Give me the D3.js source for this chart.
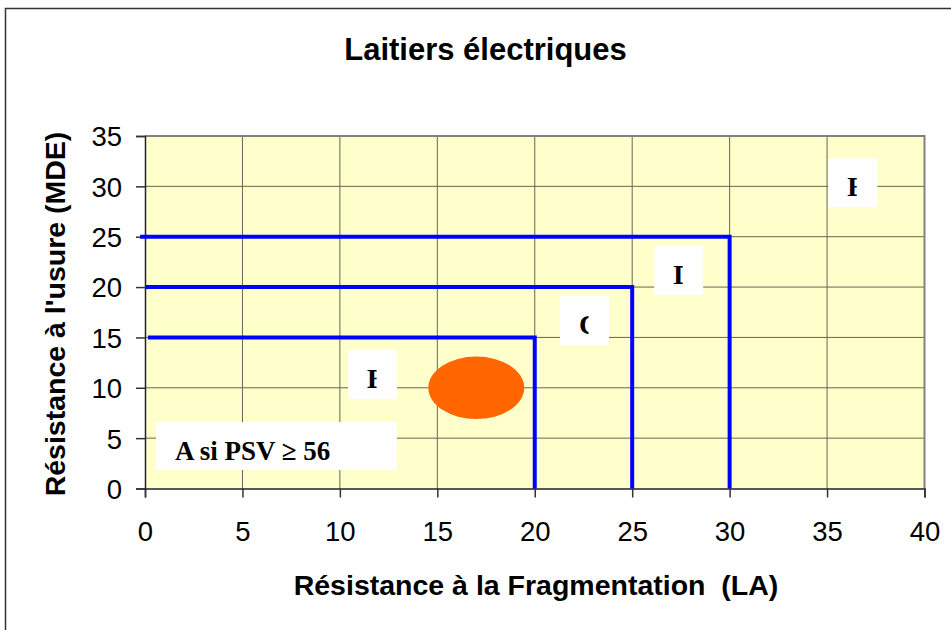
<!DOCTYPE html>
<html>
<head>
<meta charset="utf-8">
<script src="https://cdn.jsdelivr.net/npm/d3@7"></script>
<style>
  html, body { margin: 0; padding: 0; background: #ffffff; }
  svg { display: block; }
</style>
</head>
<body>
<svg id="chart" width="951" height="630"></svg>
<script>
// ---------- data ----------
const title = "Laitiers électriques";
const xTitle = "Résistance à la Fragmentation  (LA)";
const yTitle = "Résistance à l'usure (MDE)";
const xTicks = [0, 5, 10, 15, 20, 25, 30, 35, 40];
const yTicks = [0, 5, 10, 15, 20, 25, 30, 35];
// class limits: LA max and MDE max
const limitLA  = [20, 25, 30];
const limitMDE = [15, 20, 25];
const limitStartLA = [0.15, 0, -0.25];
// sample (orange ellipse): centre and half-extent in data units
const sampleLA = 17.0, sampleMDE = 10.0, sampleRangeLA = 2.46, sampleRangeMDE = 3.1;
// class labels and their anchor (top-left of the label box) in data units
const classNames = ["B", "C", "D", "E"];
const classLA    = [10.42, 21.3, 26.13, 35.06];
const classMDE   = [13.75, 19.1, 24.08, 32.8];
const noteText = "A si PSV ≥ 56";
const noteLA = 0.56, noteMDE = 6.6;

// ---------- layout ----------
const svg = d3.select("#chart");
const plot = { left: 145, right: 924.5, top: 136, bottom: 488.5 };
const x = d3.scaleLinear().domain([0, 40]).range([plot.left, plot.right]);
const y = d3.scaleLinear().domain([0, 35]).range([plot.bottom, plot.top]);

// outer frame
svg.append("rect").attr("x", 5.5).attr("y", 8.5).attr("width", 980).attr("height", 660)
  .attr("fill", "#fff").attr("stroke", "#333").attr("stroke-width", 1.5);

// plot background
svg.append("rect").attr("x", plot.left).attr("y", plot.top)
  .attr("width", plot.right - plot.left).attr("height", plot.bottom - plot.top)
  .attr("fill", "#FFFFCC");

// grid
const grid = svg.append("g");
grid.selectAll("line.v").data(xTicks.slice(1, -1)).join("line")
  .attr("x1", d => x(d)).attr("x2", d => x(d)).attr("y1", plot.top).attr("y2", plot.bottom)
  .attr("stroke", "#666655").attr("stroke-width", 1);
grid.selectAll("line.h").data(yTicks.slice(1, -1)).join("line")
  .attr("x1", plot.left).attr("x2", plot.right).attr("y1", d => y(d)).attr("y2", d => y(d))
  .attr("stroke", "#666655").attr("stroke-width", 1);

// plot top/right border (gray)
svg.append("path")
  .attr("d", `M${plot.left},${plot.top}H${plot.right}V${plot.bottom}`)
  .attr("fill", "none").attr("stroke", "#808080").attr("stroke-width", 2);

// axes
const fontSans = "'Liberation Sans', Arial, Helvetica, sans-serif";
const fontSerif = "'Liberation Serif', 'Times New Roman', serif";

const xAxis = svg.append("g").attr("transform", `translate(0,${plot.bottom})`)
  .call(d3.axisBottom(x).tickValues(xTicks).tickSize(9).tickPadding(24).tickFormat(d3.format("d")));
const yAxis = svg.append("g").attr("transform", `translate(${plot.left},0)`)
  .call(d3.axisLeft(y).tickValues(yTicks).tickSize(9).tickPadding(14).tickFormat(d3.format("d")));
[xAxis, yAxis].forEach(a => {
  a.select(".domain").attr("stroke", "#222").attr("stroke-width", 1.5);
  a.selectAll(".tick line").attr("stroke", "#333").attr("stroke-width", 1.5);
  a.selectAll(".tick text").attr("fill", "#000").style("font-family", fontSans).style("font-size", "27.5px");
});
xAxis.selectAll(".tick text").attr("dy", "0.71em");
yAxis.selectAll(".tick text").attr("dy", "0.36em");

// limit lines
const lines = svg.append("g");
limitLA.forEach((la, i) => {
  const mde = limitMDE[i];
  lines.append("path")
    .attr("d", d3.line()([[x(limitStartLA[i]), y(mde)], [x(la), y(mde)], [x(la), y(0)]]))
    .attr("fill", "none").attr("stroke", "#0000FF").attr("stroke-width", 4)
    .attr("stroke-linejoin", "miter");
});

// sample ellipse
svg.append("ellipse")
  .attr("cx", x(sampleLA)).attr("cy", y(sampleMDE))
  .attr("rx", x(sampleLA + sampleRangeLA) - x(sampleLA))
  .attr("ry", y(sampleMDE) - y(sampleMDE + sampleRangeMDE))
  .attr("fill", "#FF6600");

// class label boxes (text clipped by the box as in the original)
const boxW = 49, boxH = 49;
const defs = svg.append("defs");
classNames.forEach((name, i) => {
  const bx = x(classLA[i]), by = y(classMDE[i]);
  const id = "clip" + i;
  defs.append("clipPath").attr("id", id).append("rect")
    .attr("x", bx).attr("y", by).attr("width", 28.5).attr("height", boxH);
  svg.append("rect").attr("x", bx).attr("y", by).attr("width", boxW).attr("height", boxH).attr("fill", "#fff");
  svg.append("text").attr("x", bx + 19).attr("y", by + 38)
    .attr("clip-path", `url(#${id})`)
    .style("font-family", fontSerif).style("font-weight", "bold").style("font-size", "28px")
    .attr("fill", "#000").text(name);
});

// note box
svg.append("rect").attr("x", x(noteLA)).attr("y", y(noteMDE)).attr("width", 241).attr("height", 48).attr("fill", "#fff");
svg.append("text").attr("x", x(noteLA) + 19).attr("y", y(noteMDE) + 38)
  .style("font-family", fontSerif).style("font-weight", "bold").style("font-size", "27px")
  .attr("fill", "#000").text(noteText);

// titles
svg.append("text").attr("x", 485.5).attr("y", 59.5).attr("text-anchor", "middle")
  .style("font-family", fontSans).style("font-weight", "bold").style("font-size", "31px")
  .attr("fill", "#000").text(title);
svg.append("text").attr("x", 536).attr("y", 595).attr("text-anchor", "middle")
  .style("font-family", fontSans).style("font-weight", "bold").style("font-size", "28.5px")
  .style("white-space", "pre").attr("xml:space", "preserve")
  .attr("fill", "#000").text(xTitle);
svg.append("text").attr("transform", `translate(65,314) rotate(-90)`).attr("text-anchor", "middle")
  .style("font-family", fontSans).style("font-weight", "bold").style("font-size", "28.5px")
  .attr("fill", "#000").text(yTitle);
</script>
</body>
</html>
